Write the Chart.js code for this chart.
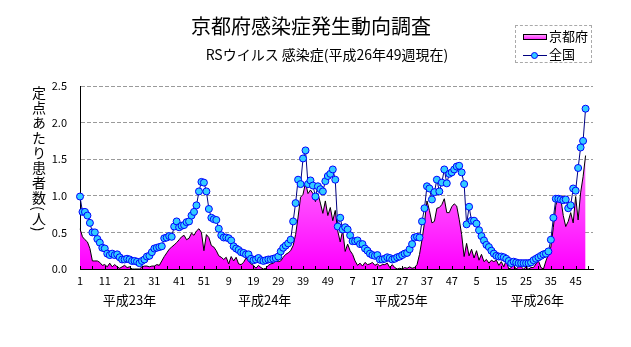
<!DOCTYPE html>
<html>
<head>
<meta charset="utf-8">
<script src="https://cdn.jsdelivr.net/npm/chart.js@4.4.1/dist/chart.umd.min.js"></script>
<style>
  body { margin: 0; background: #fff; }
  #wrap { position: relative; width: 631px; height: 347px; font-family: "Noto Sans CJK JP", sans-serif; color: #000; }
  #title { position: absolute; left: 0; top: 15px; width: 622px; text-align: center; font-size: 20px; line-height: 22px; }
  #subtitle { position: absolute; left: 0; top: 46px; width: 654px; text-align: center; font-size: 14px; line-height: 16px; }
  #ylabel { position: absolute; left: 31px; top: 86px; writing-mode: vertical-rl; font-size: 14px; line-height: 16px; letter-spacing: 1px; }
  #legend { position: absolute; left: 515px; top: 25px; width: 75px; height: 36px; border: 1px dashed #aaa; font-size: 13px; }
  .row { position: absolute; left: 7px; height: 16px; line-height: 16px; }
  .sw { display: inline-block; width: 24px; vertical-align: middle; position: relative; margin-right: 2px; }
  .sw.area { height: 4px; border: 1px solid #000; background: linear-gradient(#ff9cff, #ff2cff); width: 22px; }
  .sw.line { height: 1px; background: #000080; }
  .sw.line i { position: absolute; left: 8px; top: -3px; width: 5px; height: 5px; border-radius: 50%; background: #33ccff; border: 1px solid #0000ff; }
</style>
</head>
<body>
<div id="wrap">
  <canvas id="chart" width="631" height="347"></canvas>
  <div id="title">京都府感染症発生動向調査</div>
  <div id="subtitle">RSウイルス 感染症(平成26年49週現在)</div>
  <div id="ylabel">定点あたり患者数(人)</div>
  <div id="legend">
    <div class="row" style="top:2px"><span class="sw area"></span>京都府</div>
    <div class="row" style="top:20px"><span class="sw line"><i></i></span>全国</div>
  </div>
</div>
<script>
// weeks shown on the axis: 2011-2014 (H23-H26), 52 weeks each
const years = ["平成23年", "平成24年", "平成25年", "平成26年"];
const weeks = [];
years.forEach(() => { for (let w = 1; w <= 52; w++) weeks.push(String(w)); });

// 全国 (national), H23 w1 .. H26 w49
const national = [
  0.99, 0.78, 0.78, 0.73, 0.63, 0.50, 0.50, 0.41, 0.36, 0.29,
  0.28, 0.21, 0.19, 0.21, 0.19, 0.20, 0.16, 0.13, 0.13, 0.14,
  0.13, 0.11, 0.11, 0.10, 0.08, 0.11, 0.13, 0.17, 0.18, 0.23,
  0.28, 0.29, 0.30, 0.31, 0.42, 0.43, 0.45, 0.44, 0.58, 0.65,
  0.57, 0.59, 0.60, 0.64, 0.65, 0.73, 0.78, 0.87, 1.06, 1.19,
  1.18, 1.06, 0.82, 0.70, 0.68, 0.67, 0.55, 0.46, 0.43, 0.43,
  0.42, 0.39, 0.31, 0.28, 0.26, 0.23, 0.22, 0.20, 0.20, 0.14,
  0.12, 0.13, 0.15, 0.12, 0.11, 0.12, 0.13, 0.13, 0.14, 0.15,
  0.17, 0.24, 0.29, 0.32, 0.35, 0.40, 0.65, 0.90, 1.22, 1.16,
  1.51, 1.62, 1.16, 1.21, 1.14, 0.99, 1.13, 1.09, 1.06, 1.20,
  1.27, 1.30, 1.36, 1.22, 0.58, 0.70, 0.54, 0.57, 0.54, 0.46,
  0.38, 0.38, 0.39, 0.34, 0.34, 0.28, 0.25, 0.21, 0.19, 0.18,
  0.19, 0.13, 0.13, 0.14, 0.16, 0.15, 0.13, 0.14, 0.16, 0.17,
  0.19, 0.21, 0.22, 0.27, 0.34, 0.43, 0.44, 0.43, 0.65, 0.83,
  1.13, 1.10, 0.95, 1.05, 1.22, 1.06, 1.18, 1.36, 1.17, 1.30,
  1.32, 1.36, 1.40, 1.41, 1.32, 1.16, 0.61, 0.85, 0.66, 0.66,
  0.62, 0.53, 0.45, 0.39, 0.33, 0.30, 0.25, 0.21, 0.18, 0.17,
  0.17, 0.16, 0.14, 0.11, 0.08, 0.10, 0.09, 0.08, 0.08, 0.08,
  0.08, 0.08, 0.09, 0.12, 0.14, 0.16, 0.18, 0.20, 0.21, 0.24,
  0.40, 0.70, 0.96, 0.96, 0.95, 0.94, 0.95, 0.83, 0.87, 1.10,
  1.07, 1.38, 1.66, 1.75, 2.19
];

// 京都府 (Kyoto prefecture)
const kyoto = [
  0.55, 0.44, 0.40, 0.37, 0.28, 0.11, 0.11, 0.11, 0.09, 0.05,
  0.06, 0.03, 0.08, 0.03, 0.06, 0.03, 0.01, 0.03, 0.05, 0.02,
  0.03, 0.00, 0.00, 0.00, 0.00, 0.03, 0.04, 0.04, 0.03, 0.04,
  0.04, 0.06, 0.05, 0.11, 0.17, 0.22, 0.27, 0.30, 0.33, 0.36,
  0.40, 0.44, 0.46, 0.40, 0.42, 0.49, 0.46, 0.52, 0.55, 0.50,
  0.25, 0.47, 0.43, 0.32, 0.30, 0.25, 0.18, 0.16, 0.13, 0.16,
  0.07, 0.17, 0.11, 0.16, 0.07, 0.06, 0.09, 0.15, 0.11, 0.07,
  0.05, 0.01, 0.05, 0.02, 0.00, 0.01, 0.05, 0.07, 0.08, 0.11,
  0.10, 0.11, 0.16, 0.20, 0.22, 0.25, 0.32, 0.47, 0.71, 0.98,
  1.02, 1.18, 1.03, 1.08, 1.03, 0.92, 1.03, 0.90, 0.76, 0.93,
  0.73, 0.84, 0.66, 0.80, 0.52, 0.37, 0.53, 0.24, 0.34, 0.25,
  0.20, 0.11, 0.05, 0.08, 0.04, 0.09, 0.06, 0.07, 0.09, 0.05,
  0.07, 0.04, 0.06, 0.06, 0.08, 0.02, 0.06, 0.02, 0.00, 0.01,
  0.00, 0.02, 0.01, 0.03, 0.01, 0.02, 0.06, 0.20, 0.40, 0.63,
  0.93, 0.80, 0.63, 0.65, 0.83, 0.84, 0.88, 0.96, 0.77, 0.77,
  0.85, 0.89, 0.86, 0.68, 0.47, 0.17, 0.35, 0.18, 0.27, 0.15,
  0.25, 0.12, 0.20, 0.10, 0.13, 0.08, 0.12, 0.10, 0.12, 0.05,
  0.10, 0.03, 0.12, 0.00, 0.02, 0.05, 0.00, 0.03, 0.03, 0.00,
  0.03, 0.00, 0.02, 0.02, 0.07, 0.11, 0.02, 0.00, 0.11, 0.20,
  0.30, 0.57, 0.87, 0.98, 0.96, 0.73, 0.58, 0.65, 0.77, 0.63,
  0.99, 0.67, 1.04, 1.26, 1.55
];

const yTicks = [0, 0.5, 1.0, 1.5, 2.0, 2.5];

// small tick marks inside the x axis and the year names under the week labels
const extras = {
  id: "extras",
  afterDraw(chart) {
    const c = chart.ctx;
    const x = chart.scales.x;
    const bottom = chart.chartArea.bottom;
    c.save();
    c.strokeStyle = "#000";
    c.lineWidth = 1;
    for (let i = 0; i < weeks.length; i += 5) {
      const px = Math.round(x.getPixelForValue(i)) + 0.5;
      c.beginPath();
      c.moveTo(px, bottom);
      c.lineTo(px, bottom - 3);
      c.stroke();
    }
    const yearAt = [20, 74.5, 129.5, 184.5];
    c.fillStyle = "#000";
    c.font = "13px 'Noto Sans CJK JP', sans-serif";
    c.textAlign = "center";
    c.textBaseline = "middle";
    years.forEach((y, i) => c.fillText(y, x.getPixelForValue(yearAt[i]), bottom + 31));
    c.restore();
  },
};

Chart.defaults.font.family = "'Noto Sans CJK JP', sans-serif";
Chart.defaults.color = "#000";

new Chart(document.getElementById("chart"), {
  type: "line",
  data: {
    labels: weeks,
    datasets: [
      {
        label: "全国",
        data: national,
        order: 0,
        borderColor: "#000080",
        borderWidth: 1,
        pointRadius: 3.5,
        pointBackgroundColor: "#33ccff",
        pointBorderColor: "#0000ff",
        pointBorderWidth: 1,
        tension: 0,
        fill: false,
      },
      {
        label: "京都府",
        data: kyoto,
        order: 1,
        borderColor: "#000",
        borderWidth: 1,
        pointRadius: 0,
        tension: 0,
        fill: "origin",
        backgroundColor: (ctx) => {
          const area = ctx.chart.chartArea;
          if (!area) return "#ff00ff";
          const g = ctx.chart.ctx.createLinearGradient(0, area.top + 40, 0, area.bottom);
          g.addColorStop(0, "#ff9cff");
          g.addColorStop(1, "#ff00ff");
          return g;
        },
      },
    ],
  },
  options: {
    responsive: false,
    animation: false,
    layout: { padding: { left: 0, right: 38, top: 86, bottom: 48 } },
    plugins: { legend: { display: false }, tooltip: { enabled: false } },
    scales: {
      x: {
        offset: false,
        grid: { display: false, drawTicks: false },
        border: { color: "#000", width: 1 },
        ticks: {
          autoSkip: false,
          maxRotation: 0,
          padding: 5,
          font: { size: 11 },
          callback: (v, i) => (i % 10 === 0 ? weeks[i] : ""),
        },
        afterFit: (s) => { s.height = 30; },
      },
      y: {
        min: 0,
        max: 2.5,
        afterBuildTicks: (s) => { s.ticks = yTicks.map((v) => ({ value: v })); },
        grid: {
          drawTicks: false,
          color: (ctx) => (ctx.tick && ctx.tick.value === 0 ? "rgba(0,0,0,0)" : "#9a9a9a"),
        },
        border: { color: "#000", width: 1, dash: [4, 2] },
        ticks: { padding: 13, font: { size: 11 }, callback: (v) => Number(v).toFixed(1) },
        afterFit: (s) => { s.width = 80; },
      },
    },
  },
  plugins: [extras],
});
</script>
</body>
</html>
